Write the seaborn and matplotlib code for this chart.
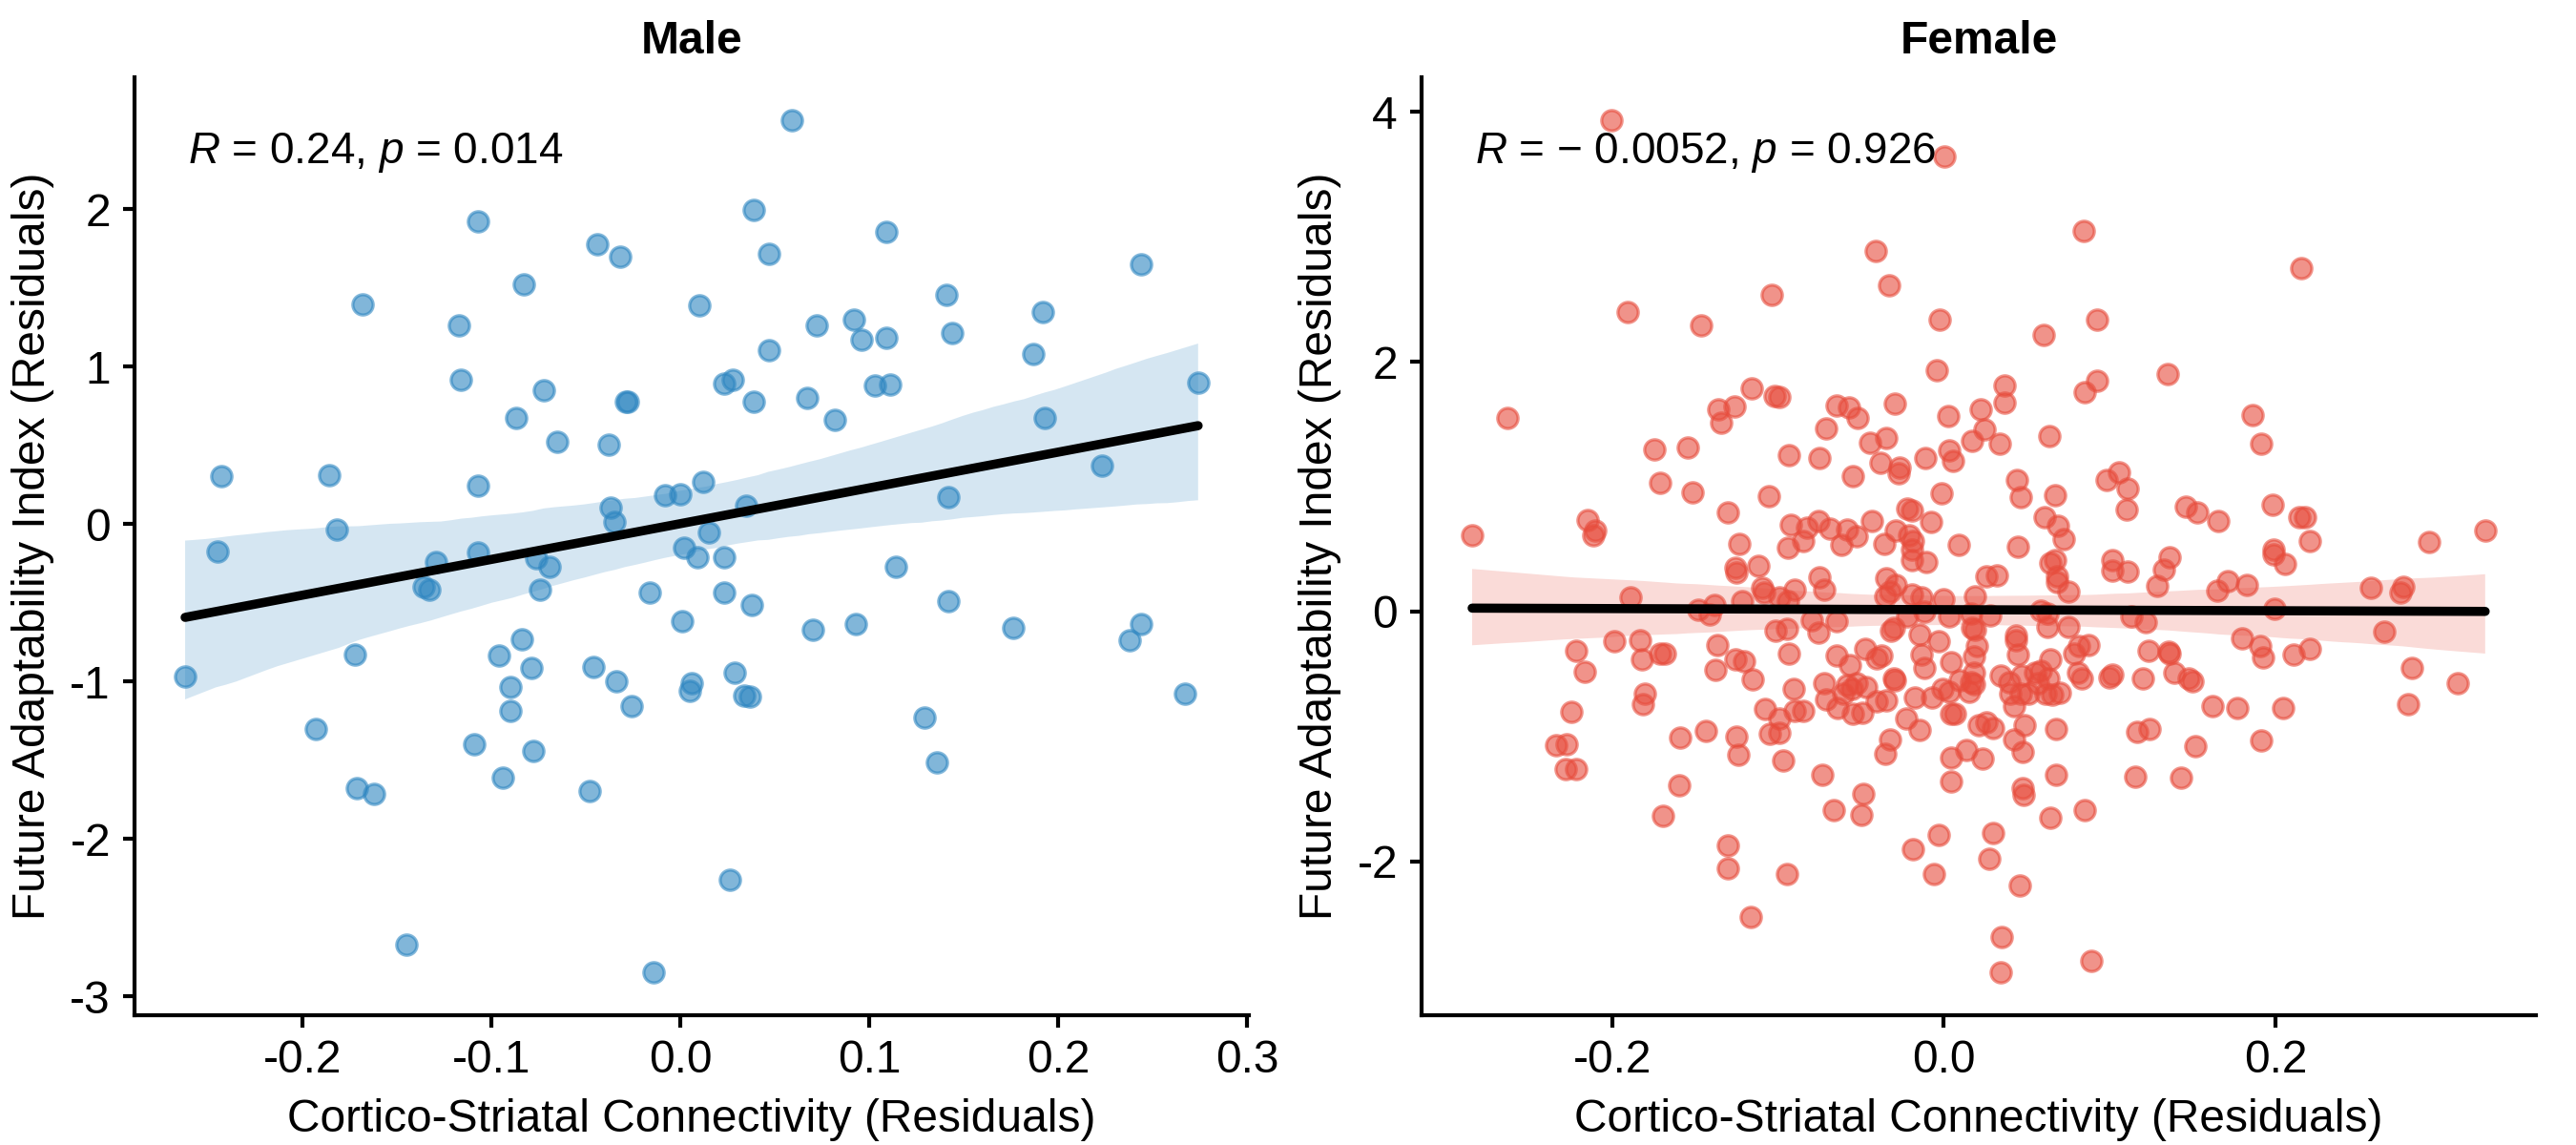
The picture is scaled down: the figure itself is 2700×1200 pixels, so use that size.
import numpy as np
import pandas as pd
import matplotlib
matplotlib.use('Agg')
import matplotlib.pyplot as plt
from matplotlib.collections import PolyCollection
import seaborn as sns

# Male: cortico-striatal connectivity vs future adaptability (residuals)
male_x = [-0.107, -0.044, -0.032, 0.039, 0.047, -0.083, -0.168, 0.010, -0.117, 0.047,
          -0.116, -0.072, -0.029, -0.028, 0.023, 0.028, 0.039, -0.087, -0.065, -0.038,
          -0.243, -0.186, -0.107, -0.037, -0.035, -0.008, 0.000, 0.012, 0.035, -0.182,
          0.015, -0.245, 0.002, 0.009, 0.023, -0.129, -0.107, -0.076, -0.069, -0.136,
          -0.133, -0.074, -0.016, 0.023, 0.038, 0.001, -0.172, -0.262, -0.084, -0.096,
          -0.079, -0.046, -0.034, -0.026, -0.090, -0.090, 0.006, 0.005, 0.029, 0.034,
          0.037, -0.193, -0.109, -0.078, -0.094, -0.171, -0.162, -0.048, 0.026, -0.145,
          -0.014, 0.114, 0.142, 0.070, 0.093, 0.176, 0.244, 0.238, 0.267, 0.129,
          0.136, 0.059, 0.109, 0.244, 0.141, 0.192, 0.072, 0.092, 0.096, 0.109,
          0.144, 0.187, 0.067, 0.082, 0.103, 0.111, 0.274, 0.193, 0.223, 0.142]
male_y = [1.926, 1.779, 1.697, 1.998, 1.718, 1.521, 1.395, 1.391, 1.263, 1.103,
          0.919, 0.852, 0.776, 0.776, 0.895, 0.919, 0.780, 0.676, 0.524, 0.503,
          0.303, 0.312, 0.243, 0.104, 0.013, 0.182, 0.190, 0.269, 0.117, -0.032,
          -0.050, -0.173, -0.152, -0.210, -0.210, -0.238, -0.180, -0.217, -0.271, -0.400,
          -0.415, -0.415, -0.434, -0.434, -0.516, -0.618, -0.830, -0.971, -0.731, -0.835,
          -0.915, -0.906, -1.001, -1.155, -1.036, -1.188, -1.012, -1.062, -0.947, -1.088,
          -1.097, -1.300, -1.398, -1.441, -1.610, -1.675, -1.717, -1.695, -2.260, -2.672,
          -2.850, -0.271, -0.488, -0.672, -0.633, -0.661, -0.635, -0.739, -1.077, -1.229,
          -1.517, 2.568, 1.855, 1.649, 1.454, 1.348, 1.265, 1.300, 1.172, 1.185,
          1.213, 1.083, 0.800, 0.661, 0.882, 0.886, 0.899, 0.674, 0.371, 0.171]

# Female
female_x = [
    -0.2006, -0.1037, -0.1906, -0.1465, -0.1159, -0.1021, -0.0989, -0.1361, -0.1263, -0.1344,
    -0.2632, -0.1747, -0.1541, -0.0935, -0.1708, -0.1516, -0.1056, -0.1301, -0.2148, -0.2102,
    -0.2111, -0.2843, -0.0921, -0.0825, -0.0845, -0.0941, -0.1232,
    0.0006, 0.0841, -0.0409, -0.0330, -0.0023, 0.0599, 0.0925, -0.0044, 0.0365, 0.0365,
    0.0848, 0.0925, 0.1348, -0.0647, -0.0570, -0.0520, -0.0294, -0.0710, 0.0025, 0.0223,
    0.0246, -0.0749, -0.0445, -0.0349, 0.0169, 0.0338, 0.0635, -0.0109, 0.0033, 0.0058,
    -0.0382, -0.0267, -0.0275, -0.0547, -0.0013, 0.0438, 0.0465, 0.0672, 0.0979, 0.1056,
    0.1110, 0.1100, 0.1459, -0.0221, -0.0192, -0.0758, -0.0685, -0.0585, -0.0528, -0.0620,
    -0.0436, -0.0288, -0.0211, -0.0186, -0.0192, -0.0359, -0.0075, 0.0090, 0.0609, 0.0687,
    0.0720, 0.0447,
    0.2156, 0.1860, 0.1914, 0.1526, 0.1655, 0.1983, 0.2141, 0.2180, 0.2204, 0.1986,
    0.2925, 0.3263,
    0.1987, 0.2054, 0.1712, 0.1651, 0.1827, 0.2576, 0.2770, 0.2755, 0.1994, 0.2655,
    0.1799, 0.1906, 0.1922, 0.2106, 0.2207, 0.2824, 0.3100, 0.1500, 0.1618, 0.1769,
    0.2044, 0.2801, 0.1914, 0.1516,
    -0.0192, -0.0104, -0.0749, -0.0720, -0.0346, -0.0288, -0.0326, -0.0351, -0.0192, -0.0134,
    0.0000, 0.0186, 0.0255, 0.0317, 0.0643, 0.0672, 0.0681, 0.0681, 0.0749, 0.1017,
    0.1017, 0.1110, 0.1363, 0.1325, 0.1286, -0.0797, -0.0758, -0.0647, -0.0321, -0.0301,
    -0.0221, -0.0148, -0.0115, 0.0033, 0.0163, 0.0173, 0.0186, 0.0278, -0.0033, 0.0198,
    0.0182, 0.0432, 0.0432, 0.0447, 0.0585, 0.0624, 0.0624, 0.0754, 0.0812, 0.0873,
    0.0787, 0.1133, 0.1219, 0.1234, 0.1353, 0.1363, 0.1388, 0.1478, -0.0647, -0.0566,
    -0.0474, -0.0403, -0.0378, -0.0720, -0.0710, -0.0643, -0.0585, -0.0557, -0.0528, -0.0470,
    -0.0605, -0.0551, -0.0490, -0.0403, -0.0346, -0.0301, -0.0295, -0.0134, -0.0120, -0.0173,
    -0.0071, -0.0225, -0.0144, 0.0044, -0.0010, 0.0033, 0.0096, 0.0154, 0.0163, 0.0182,
    0.0182, 0.0044, 0.0067, 0.0340, 0.0394, 0.0403, 0.0422, 0.0461, 0.0470, 0.0509,
    0.0547, 0.0585, 0.0633, 0.0614, 0.0653, 0.0701, 0.0566, 0.0643, 0.0806, 0.0831,
    0.0998, 0.1017, 0.1200, 0.0211, 0.0259, 0.0298, 0.0486, 0.0678, 0.1165, 0.1242,
    -0.0326, -0.0351, 0.0044, 0.0134, 0.0236, 0.0422, 0.0474, -0.0735, 0.0042, 0.0474,
    0.0480, 0.0678, 0.1152, 0.1430, -0.0484, -0.0662, -0.0499, 0.0643, 0.0848, -0.0033,
    0.0294, -0.0186, 0.0275, -0.0058, 0.0455, 0.0349, 0.0340, 0.0887,
    -0.1257, -0.1248, -0.1117, -0.1094, -0.1085, -0.0902, -0.0989, -0.0941, -0.1891, -0.1478,
    -0.1382, -0.1411, -0.1213, -0.1012, -0.0946, -0.1987, -0.1830, -0.1819, -0.1708, -0.1683,
    -0.2217, -0.2165, -0.1367, -0.1378, -0.1257, -0.1204, -0.1150, -0.0935, -0.0906, -0.1800,
    -0.1814, -0.2246, -0.2336, -0.2275, -0.2282, -0.2217, -0.1075, -0.0989, -0.1046, -0.0989,
    -0.0902, -0.0848, -0.1587, -0.1436, -0.1252, -0.1238, -0.0966, -0.1597, -0.1693, -0.1301,
    -0.1301, -0.0946, -0.1161]
female_y = [
    3.937, 2.538, 2.396, 2.288, 1.784, 1.723, 1.715, 1.621, 1.639, 1.511,
    1.547, 1.300, 1.312, 1.249, 1.027, 0.956, 0.920, 0.790, 0.731, 0.652,
    0.612, 0.609, 0.691, 0.670, 0.563, 0.512, 0.543,
    3.647, 3.045, 2.885, 2.615, 2.334, 2.212, 2.337, 1.932, 1.812, 1.674,
    1.758, 1.850, 1.899, 1.646, 1.634, 1.549, 1.662, 1.465, 1.562, 1.621,
    1.460, 1.231, 1.353, 1.391, 1.366, 1.340, 1.402, 1.231, 1.287, 1.205,
    1.188, 1.154, 1.103, 1.083, 0.945, 1.052, 0.917, 0.930, 1.052, 1.116,
    0.984, 0.815, 0.836, 0.823, 0.810, 0.721, 0.665, 0.657, 0.599, 0.530,
    0.721, 0.645, 0.607, 0.568, 0.492, 0.543, 0.714, 0.530, 0.759, 0.688,
    0.581, 0.517,
    2.752, 1.575, 1.346, 0.790, 0.721, 0.854, 0.759, 0.759, 0.561, 0.492,
    0.558, 0.645,
    0.454, 0.382, 0.245, 0.165, 0.212, 0.186, 0.199, 0.155, 0.025, -0.163,
    -0.214, -0.273, -0.370, -0.349, -0.298, -0.456, -0.578, -0.558, -0.757, -0.770,
    -0.777, -0.742, -1.030, -1.081,
    0.415, 0.395, 0.275, 0.173, 0.268, 0.212, 0.161, 0.122, 0.140, 0.110,
    0.097, 0.122, 0.283, 0.288, 0.390, 0.415, 0.283, 0.237, 0.161, 0.415,
    0.326, 0.319, 0.436, 0.334, 0.204, -0.069, -0.166, -0.074, -0.158, -0.133,
    -0.043, -0.183, -0.005, -0.043, -0.018, -0.133, -0.145, -0.031, -0.242, -0.273,
    -0.362, -0.191, -0.234, -0.349, 0.008, -0.018, -0.125, -0.127, -0.273, -0.268,
    -0.336, -0.043, -0.082, -0.311, -0.319, -0.336, -0.489, -0.540, -0.354, -0.431,
    -0.298, -0.375, -0.354, -0.578, -0.706, -0.770, -0.590, -0.617, -0.578, -0.604,
    -0.655, -0.821, -0.808, -0.719, -0.711, -0.540, -0.548, -0.349, -0.451, -0.693,
    -0.693, -0.854, -0.948, -0.405, -0.617, -0.642, -0.553, -0.642, -0.566, -0.584,
    -0.489, -0.821, -0.821, -0.515, -0.566, -0.655, -0.757, -0.655, -0.515, -0.655,
    -0.489, -0.477, -0.540, -0.655, -0.668, -0.650, -0.578, -0.387, -0.489, -0.540,
    -0.527, -0.502, -0.533, -0.910, -0.889, -0.930, -0.910, -0.943, -0.966, -0.940,
    -1.024, -1.139, -1.170, -1.109, -1.177, -1.024, -1.126, -1.312, -1.363, -1.419,
    -1.470, -1.305, -1.323, -1.335, -1.458, -1.593, -1.628, -1.649, -1.593, -1.789,
    -1.771, -1.904, -1.980, -2.102, -2.192, -2.604, -2.893, -2.796,
    0.352, 0.314, 0.364, 0.186, 0.148, 0.173, 0.110, 0.084, 0.115, 0.013,
    0.054, -0.023, 0.084, -0.158, -0.138, -0.240, -0.229, -0.380, -0.336, -0.336,
    -0.316, -0.482, -0.268, -0.471, -0.387, -0.400, -0.543, -0.341, -0.617, -0.655,
    -0.744, -0.803, -1.068, -1.063, -1.259, -1.259, -0.782, -0.859, -0.981, -0.974,
    -0.800, -0.800, -1.009, -0.953, -1.004, -1.144, -1.195, -1.389, -1.639, -1.873,
    -2.057, -2.100, -2.444]

panel_titles = ['Male', 'Female']
panel_colors = ['#2E86C1', '#E74C3C']
stat_labels = [r'$R$ = 0.24, $p$ = 0.014', r'$R$ = $-$ 0.0052, $p$ = 0.926']
male_xticks = [-0.2, -0.1, 0.0, 0.1, 0.2, 0.3]
male_xticklabels = ['-0.2', '-0.1', '0.0', '0.1', '0.2', '0.3']
male_yticks = [-3, -2, -1, 0, 1, 2]
male_yticklabels = ['-3', '-2', '-1', '0', '1', '2']
female_xticks = [-0.2, 0.0, 0.2]
female_xticklabels = ['-0.2', '0.0', '0.2']
female_yticks = [-2, 0, 2, 4]
female_yticklabels = ['-2', '0', '2', '4']

sns.set_style('ticks')
plt.rcParams['font.family'] = ['Liberation Sans', 'DejaVu Sans']
plt.rcParams['mathtext.fontset'] = 'custom'
plt.rcParams['mathtext.rm'] = 'Liberation Sans'
plt.rcParams['mathtext.it'] = 'Liberation Sans:italic'
plt.rcParams['axes.unicode_minus'] = False
for key in ['text.color', 'axes.labelcolor', 'axes.edgecolor', 'xtick.color', 'ytick.color']:
    plt.rcParams[key] = 'black'

fig, axes = plt.subplots(1, 2, figsize=(9, 4), dpi=300)
fig.subplots_adjust(left=0.0522, right=0.9844, bottom=0.1133, top=0.9325, wspace=0.155)

panels = [
    (male_x, male_y, male_xticks, male_xticklabels, male_yticks, male_yticklabels),
    (female_x, female_y, female_xticks, female_xticklabels, female_yticks, female_yticklabels),
]

for i, ax in enumerate(axes):
    xs, ys, xt, xtl, yt, ytl = panels[i]
    df = pd.DataFrame({'x': xs, 'y': ys})
    col = panel_colors[i]
    sns.regplot(data=df, x='x', y='y', ax=ax, color=col, ci=95, seed=1,
                scatter_kws={'s': 26, 'alpha': 0.6, 'linewidths': 0.8},
                line_kws={'color': 'black', 'lw': 2.3})
    for coll in ax.collections:
        if isinstance(coll, PolyCollection):
            coll.set_alpha(0.2)
            coll.set_facecolor(col)
            coll.set_edgecolor('none')

    # ggplot-like 5% expansion
    xr = max(xs) - min(xs)
    yr = max(ys) - min(ys)
    ax.set_xlim(min(xs) - 0.05 * xr, max(xs) + 0.05 * xr)
    ax.set_ylim(min(ys) - 0.05 * yr, max(ys) + 0.05 * yr)

    ax.set_xticks(xt)
    ax.set_xticklabels(xtl)
    ax.set_yticks(yt)
    ax.set_yticklabels(ytl)
    ax.tick_params(labelsize=11.5, width=1.0, length=3, pad=3, colors='black')
    for s in ['left', 'bottom']:
        ax.spines[s].set_linewidth(1.0)
        ax.spines[s].set_color('black')
    sns.despine(ax=ax)

    ax.set_title(panel_titles[i], fontsize=11.5, fontweight='bold', pad=6, color='black')
    ax.set_xlabel('Cortico-Striatal Connectivity (Residuals)', fontsize=11.5, labelpad=4)
    ax.set_ylabel('Future Adaptability Index (Residuals)', fontsize=11.5, labelpad=4)
    ax.text(0.048, 0.92, stat_labels[i], transform=ax.transAxes,
            ha='left', va='center', fontsize=11, color='black')

fig.savefig('out.png', dpi=300)
